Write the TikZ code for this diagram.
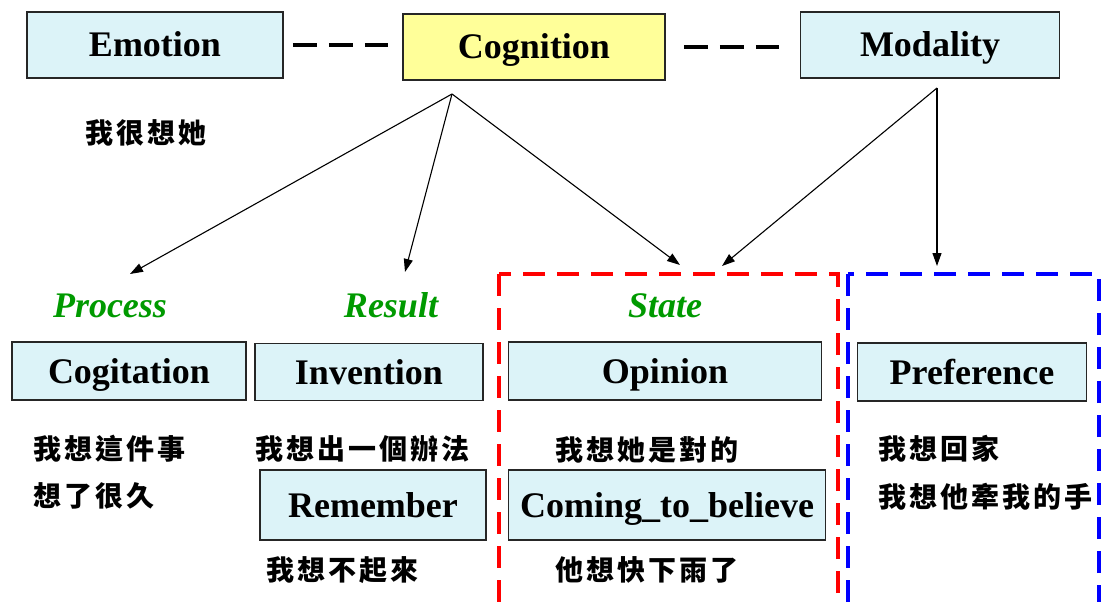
\documentclass[tikz,border=0pt]{standalone}
\usepackage{fontspec}
\setmainfont{Liberation Serif}
\newfontfamily\cjk[LetterSpace=11]{Noto Sans CJK TC}
\usetikzlibrary{arrows.meta}
\definecolor{boxcyan}{HTML}{DCF3F8}
\definecolor{boxyellow}{HTML}{FFFF99}
\definecolor{labgreen}{HTML}{009A00}
\tikzset{
  catbox/.style={draw=black!85, line width=1.6pt, fill=boxcyan, inner sep=0pt,
    text height=24pt, text depth=0pt,
    font=\bfseries\fontsize{36}{36}\selectfont},
  senselabel/.style={text=labgreen, inner sep=0pt,
    text height=24pt, text depth=0pt,
    font=\bfseries\itshape\fontsize{36}{36}\selectfont},
  example/.style={anchor=west, inner sep=0pt, font=\cjk\bfseries\fontsize{28}{28}\selectfont},
  topdash/.style={line width=4.5pt, dash pattern=on 24pt off 12pt},
  branch/.style={line width=1.1pt, -{Triangle[length=13pt,width=9pt]}},
  frame/.style={line width=4pt, dash pattern=on 22pt off 12pt}
}
\begin{document}
\begin{tikzpicture}[x=1pt,y=-1pt]
\useasboundingbox (0,0) rectangle (1104,602);

% top-level categories
\node[catbox, minimum width=256pt, minimum height=66pt] (emotion) at (155,45) {Emotion};
\node[catbox, fill=boxyellow, minimum width=262pt, minimum height=66pt] (cognition) at (534,47) {Cognition};
\node[catbox, minimum width=259pt, minimum height=66pt] (modality) at (930,45) {Modality};

\draw[topdash, shorten <=9pt, shorten >=14pt] (emotion.east) -- (emotion.east -| cognition.west);
\draw[topdash, shorten <=18pt, shorten >=21pt] (cognition.east) -- (cognition.east -| modality.west);

\node[example] (ex0) at (85,133) {我很想她};

% branching points and arrow targets
\coordinate (cogfork) at (452,94);
\coordinate (modfork) at (937,88);
\coordinate (tprocess) at (130,274);
\coordinate (tresult) at (405,272);
\coordinate (tstate) at (680,265);
\coordinate (tstatemod) at (722,266);
\coordinate (tpref) at (937,266);

\draw[branch] (cogfork) -- (tprocess);
\draw[branch] (cogfork) -- (tresult);
\draw[branch] (cogfork) -- (tstate);
\draw[branch] (modfork) -- (tstatemod);
\draw[branch] (modfork) -- (tpref);

% sense groups
\node[senselabel] (process) at (110,305) {Process};
\node[senselabel] (result) at (391,305) {Result};
\node[senselabel] (state) at (665,305) {State};

\node[catbox, minimum width=234pt, minimum height=58pt] (cogitation) at (129,371) {Cogitation};
\node[catbox, minimum width=228pt, minimum height=57pt] (invention) at (369,372) {Invention};
\node[catbox, minimum width=313pt, minimum height=58pt] (opinion) at (665,371) {Opinion};
\node[catbox, minimum width=229pt, minimum height=58pt] (preference) at (972,372) {Preference};
\node[catbox, minimum width=226pt, minimum height=70pt] (remember) at (373,505) {Remember};
\node[catbox, minimum width=317pt, minimum height=70pt] (coming) at (667,505) {Coming\_to\_believe};

% example sentences
\node[example] (ex1) at (33,449) {我想這件事};
\node[example] (ex2) at (33,496) {想了很久};
\node[example] (ex3) at (255,449) {我想出一個辦法};
\node[example] (ex4) at (266,570) {我想不起來};
\node[example] (ex5) at (555,450) {我想她是對的};
\node[example] (ex6) at (555,570) {他想快下雨了};
\node[example] (ex7) at (878,449) {我想回家};
\node[example] (ex8) at (878,497) {我想他牽我的手};

% dashed frames
\draw[frame, red] (499,274) rectangle (838,604);
\draw[frame, blue] (848,274) rectangle (1099,604);
\end{tikzpicture}
\end{document}
